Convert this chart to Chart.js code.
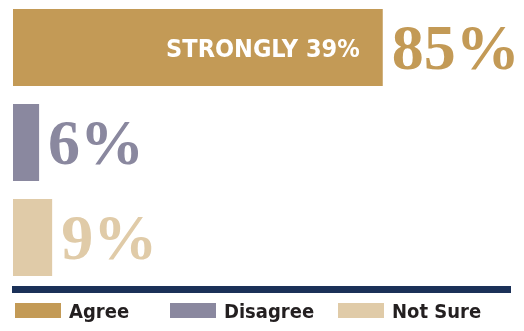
<!DOCTYPE html>
<html>
<head>
    <title>Agree / Disagree</title>
    <script src="https://cdn.jsdelivr.net/npm/chart.js"></script>
    <style>
        body { margin: 0; background: #fff; }
        #wrap { width: 524px; height: 331px; position: relative; }
    </style>
</head>
<body>
<div id="wrap"><canvas id="myChart"></canvas></div>
<script>
    // data
    var categories = ['Agree', 'Disagree', 'Not Sure'];
    var values = [85, 6, 9];
    var strongly = [39, null, null];
    var colors = ['#c39a56', '#8a889f', '#e0cba8'];

    var sansFont = '"DejaVu Sans Condensed", "DejaVu Sans", sans-serif';
    var serifFont = '"Liberation Serif", "DejaVu Serif", serif';

    // big serif values + the white "STRONGLY" text inside the bar
    var labelPlugin = {
        id: 'labels',
        afterDatasetsDraw: function(chart) {
            var ctx = chart.ctx;
            var meta = chart.getDatasetMeta(0);
            ctx.save();
            meta.data.forEach(function(bar, i) {
                ctx.fillStyle = colors[i];
                ctx.font = 'bold 64px ' + serifFont;
                ctx.textAlign = 'left';
                ctx.textBaseline = 'alphabetic';
                ctx.fillText(values[i] + '%', bar.x + 9, bar.y + 21);
                if (strongly[i] != null) {
                    ctx.fillStyle = '#ffffff';
                    ctx.font = 'bold 25px ' + sansFont;
                    ctx.textAlign = 'right';
                    ctx.fillText('STRONGLY ' + strongly[i] + '%', bar.x - 23, bar.y + 9);
                }
            });
            ctx.restore();
        }
    };

    // navy rule and legend along the bottom
    var legendPlugin = {
        id: 'bottomLegend',
        afterDraw: function(chart) {
            var ctx = chart.ctx;
            var xs = [15, 170, 338];
            ctx.save();
            ctx.fillStyle = '#1b3158';
            ctx.fillRect(12, 286, 499, 7);
            categories.forEach(function(c, i) {
                ctx.fillStyle = colors[i];
                ctx.fillRect(xs[i], 303, 46, 15);
                ctx.fillStyle = '#231f20';
                ctx.font = 'bold 20px ' + sansFont;
                ctx.textAlign = 'left';
                ctx.textBaseline = 'alphabetic';
                ctx.fillText(c, xs[i] + 54, 318);
            });
            ctx.restore();
        }
    };

    var ctx = document.getElementById('myChart').getContext('2d');
    var myChart = new Chart(ctx, {
        type: 'bar',
        data: {
            labels: categories,
            datasets: [{
                data: values,
                backgroundColor: colors,
                borderWidth: 0,
                barPercentage: 1,
                categoryPercentage: 0.81
            }]
        },
        options: {
            indexAxis: 'y',
            responsive: true,
            maintainAspectRatio: false,
            animation: false,
            layout: { padding: { left: 13, right: 76, top: 0, bottom: 46 } },
            plugins: {
                legend: { display: false },
                tooltip: { enabled: false }
            },
            scales: {
                x: { display: false, min: 0, max: 100 },
                y: { display: false }
            }
        },
        plugins: [labelPlugin, legendPlugin]
    });
</script>
</body>
</html>
